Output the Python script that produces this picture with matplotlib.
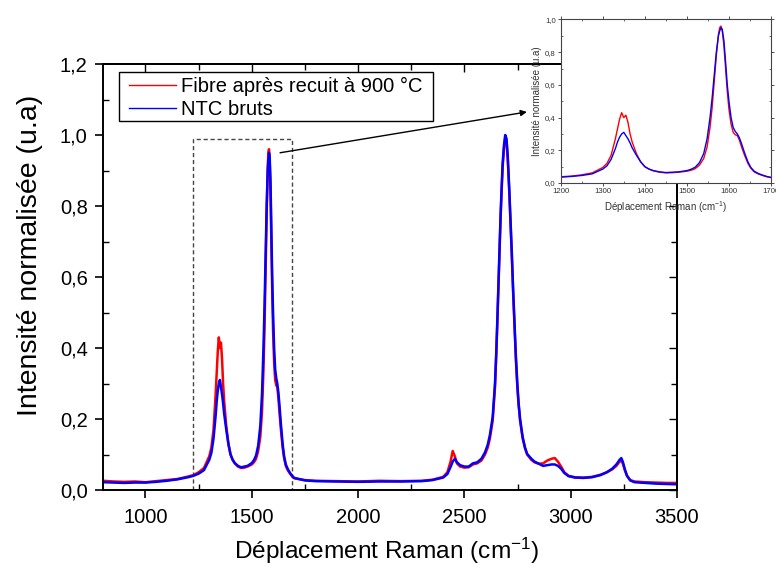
import matplotlib
matplotlib.use("Agg")
import matplotlib.pyplot as plt
from matplotlib.ticker import MultipleLocator, FuncFormatter
from matplotlib.patches import Rectangle

# ---------------- data ----------------
raman_shift = [800, 850, 900, 950, 1000, 1050, 1100, 1150, 1200, 1225, 1250, 1275,
               1300, 1310, 1320, 1330, 1335, 1340, 1345, 1350, 1355, 1360, 1365, 1370,
               1380, 1390, 1400, 1410, 1420, 1435, 1450, 1465, 1480, 1500, 1510, 1520,
               1530, 1540, 1548, 1555, 1560, 1565, 1570, 1575, 1578, 1581, 1584, 1588,
               1592, 1596, 1600, 1605, 1610, 1615, 1620, 1625, 1630, 1637, 1645, 1652,
               1660, 1670, 1680, 1690, 1700, 1750, 1800, 1900, 2000, 2100, 2200, 2300,
               2350, 2400, 2420, 2435, 2445, 2455, 2465, 2480, 2500, 2520, 2540, 2560,
               2580, 2597, 2610, 2620, 2633, 2644, 2650, 2655, 2660, 2664, 2670, 2675,
               2680, 2686, 2692, 2698, 2704, 2711, 2717, 2723, 2729, 2735, 2742, 2749,
               2755, 2762, 2774, 2785, 2795, 2815, 2830, 2850, 2870, 2890, 2910, 2925,
               2940, 2955, 2970, 2990, 3020, 3060, 3100, 3140, 3170, 3195, 3215, 3230,
               3238, 3245, 3255, 3265, 3280, 3300, 3350, 3400, 3450, 3500]

fibre_900C = [0.026, 0.024, 0.023, 0.024, 0.022, 0.025, 0.028, 0.031, 0.038, 0.042, 0.050, 0.062,
              0.095, 0.120, 0.170, 0.270, 0.330, 0.390, 0.430, 0.400, 0.415, 0.370, 0.300, 0.250,
              0.180, 0.130, 0.100, 0.085, 0.075, 0.066, 0.062, 0.063, 0.066, 0.072, 0.078, 0.088,
              0.110, 0.150, 0.220, 0.340, 0.460, 0.620, 0.780, 0.910, 0.950, 0.960, 0.930, 0.840,
              0.700, 0.560, 0.450, 0.360, 0.310, 0.295, 0.290, 0.260, 0.220, 0.170, 0.120, 0.090,
              0.068, 0.055, 0.046, 0.038, 0.033, 0.028, 0.026, 0.025, 0.024, 0.026, 0.025, 0.026,
              0.029, 0.037, 0.050, 0.080, 0.110, 0.095, 0.075, 0.066, 0.063, 0.064, 0.072, 0.075,
              0.083, 0.100, 0.120, 0.145, 0.195, 0.290, 0.380, 0.470, 0.570, 0.660, 0.760, 0.840,
              0.910, 0.960, 0.990, 0.985, 0.930, 0.840, 0.750, 0.660, 0.560, 0.470, 0.370, 0.290,
              0.240, 0.195, 0.145, 0.118, 0.100, 0.085, 0.078, 0.074, 0.075, 0.083, 0.088, 0.090,
              0.080, 0.066, 0.050, 0.040, 0.036, 0.035, 0.037, 0.043, 0.050, 0.058, 0.068, 0.080,
              0.082, 0.075, 0.055, 0.040, 0.028, 0.024, 0.022, 0.021, 0.020, 0.020]

ntc_bruts = [0.022, 0.021, 0.020, 0.021, 0.021, 0.023, 0.026, 0.030, 0.036, 0.040, 0.046, 0.056,
             0.085, 0.105, 0.145, 0.210, 0.250, 0.280, 0.300, 0.310, 0.290, 0.270, 0.245, 0.215,
             0.170, 0.130, 0.100, 0.085, 0.076, 0.068, 0.064, 0.066, 0.068, 0.076, 0.084, 0.097,
             0.125, 0.180, 0.270, 0.400, 0.520, 0.660, 0.800, 0.900, 0.930, 0.950, 0.940, 0.870,
             0.740, 0.600, 0.500, 0.400, 0.340, 0.315, 0.300, 0.275, 0.240, 0.185, 0.130, 0.095,
             0.072, 0.058, 0.048, 0.040, 0.034, 0.027, 0.025, 0.024, 0.023, 0.024, 0.024, 0.025,
             0.028, 0.035, 0.045, 0.065, 0.080, 0.088, 0.078, 0.070, 0.066, 0.066, 0.075, 0.078,
             0.088, 0.106, 0.128, 0.155, 0.205, 0.300, 0.390, 0.480, 0.580, 0.670, 0.770, 0.850,
             0.920, 0.970, 1.000, 0.990, 0.940, 0.850, 0.760, 0.670, 0.570, 0.480, 0.380, 0.300,
             0.245, 0.200, 0.150, 0.120, 0.102, 0.088, 0.080, 0.074, 0.068, 0.070, 0.072, 0.072,
             0.068, 0.060, 0.048, 0.039, 0.035, 0.034, 0.036, 0.042, 0.050, 0.060, 0.072, 0.085,
             0.090, 0.080, 0.058, 0.040, 0.027, 0.022, 0.020, 0.018, 0.017, 0.016]

series_labels = ["Fibre après recuit à 900 °C", "NTC bruts"]
xlabel_text = "Déplacement Raman (cm$^{-1}$)"
ylabel_text = "Intensité normalisée (u.a)"
zoom_box_x = [1225, 1690]
zoom_box_top = 0.99
arrow_start = (1633, 0.95)
arrow_end = (2794, 1.065)

# ---------------- style ----------------
plt.rcParams['font.family'] = ['Liberation Sans', 'DejaVu Sans']
plt.rcParams['mathtext.fontset'] = 'custom'
plt.rcParams['mathtext.rm'] = 'Liberation Sans'
plt.rcParams['mathtext.it'] = 'Liberation Sans:italic'

comma = FuncFormatter(lambda v, p: f"{v:.1f}".replace('.', ','))

fig = plt.figure(figsize=(7.76, 5.68), dpi=100)
ax = fig.add_axes([0.1327, 0.1373, 0.7397, 0.75])

ax.plot(raman_shift, fibre_900C, color='#ff0000', lw=1.8, label=series_labels[0])
ax.plot(raman_shift, ntc_bruts, color='#0000ff', lw=1.8, label=series_labels[1])

ax.set_xlim(800, 3500)
ax.set_ylim(0, 1.2)
ax.xaxis.set_major_locator(MultipleLocator(500))
ax.xaxis.set_minor_locator(MultipleLocator(250))
ax.yaxis.set_major_locator(MultipleLocator(0.2))
ax.yaxis.set_minor_locator(MultipleLocator(0.1))
ax.yaxis.set_major_formatter(comma)
ax.tick_params(which='major', direction='out', length=6, width=1.2, labelsize=14.5)
ax.tick_params(axis='x', which='major', pad=7)
ax.tick_params(axis='y', which='major', pad=5)
ax.tick_params(which='minor', direction='in', length=4, width=1.0)
for s in ax.spines.values():
    s.set_linewidth(1.4)

secx = ax.secondary_xaxis('top')
secx.xaxis.set_major_locator(MultipleLocator(500))
secx.xaxis.set_minor_locator(MultipleLocator(250))
secx.tick_params(which='both', direction='in', labeltop=False, width=1.0)
secx.tick_params(which='major', length=6)
secx.tick_params(which='minor', length=4)
secx.spines['top'].set_linewidth(1.4)
secy = ax.secondary_yaxis('right')
secy.yaxis.set_major_locator(MultipleLocator(0.2))
secy.yaxis.set_minor_locator(MultipleLocator(0.1))
secy.tick_params(which='both', direction='in', labelright=False, width=1.0)
secy.tick_params(which='major', length=6)
secy.tick_params(which='minor', length=4)
secy.spines['right'].set_linewidth(1.4)

ax.set_xlabel(xlabel_text, fontsize=17.6)
ax.xaxis.set_label_coords(0.495, -0.107)
ax.set_ylabel(ylabel_text, fontsize=20.5)
ax.yaxis.set_label_coords(-0.105, 0.55)

# legend: frame drawn as a box, entries placed inside it
ax.add_patch(Rectangle((0.0279, 0.866), 0.547, 0.115, transform=ax.transAxes,
                       fill=True, fc='white', ec='black', lw=1.0, zorder=4))
leg = ax.legend(loc='upper left', bbox_to_anchor=(0.046, 0.970), borderaxespad=0,
                frameon=False, prop={'family': ['Liberation Sans', 'DejaVu Sans'], 'size': 14.5},
                handlelength=2.3, handletextpad=0.28, labelspacing=0.2, borderpad=0)
leg.set_zorder(5)
for h in leg.get_lines():
    h.set_linewidth(1.0)

ax.add_patch(Rectangle((zoom_box_x[0], 0), zoom_box_x[1] - zoom_box_x[0], zoom_box_top,
                       fill=False, ls=(0, (3, 2)), lw=1.0, ec='#444444', zorder=1))
ax.annotate('', xy=arrow_end, xytext=arrow_start,
            arrowprops=dict(arrowstyle='-|>', color='black', lw=1.0,
                            mutation_scale=9, shrinkA=0, shrinkB=0))

# ---------------- inset ----------------
ins = fig.add_axes([0.7225, 0.6778, 0.2711, 0.2879], zorder=5)
ins.set_facecolor('white')
ins.plot(raman_shift, fibre_900C, color='#ff0000', lw=1.0)
ins.plot(raman_shift, ntc_bruts, color='#0000ff', lw=1.0)
ins.set_xlim(1200, 1700)
ins.set_ylim(0, 1.0)
ins.xaxis.set_major_locator(MultipleLocator(100))
ins.xaxis.set_minor_locator(MultipleLocator(50))
ins.yaxis.set_major_locator(MultipleLocator(0.2))
ins.yaxis.set_minor_locator(MultipleLocator(0.1))
ins.yaxis.set_major_formatter(comma)
ins.tick_params(which='major', direction='out', length=2.5, width=0.6, labelsize=5.6,
                pad=1, colors='#333333')
ins.tick_params(which='minor', direction='in', length=1.5, width=0.5, colors='#333333')
ins.tick_params(which='both', top=True, right=True)
for s in ins.spines.values():
    s.set_linewidth(0.8)
    s.set_color('#444444')
ins.set_xlabel(xlabel_text, fontsize=7.0, labelpad=3, color='#333333')
ins.set_ylabel(ylabel_text, fontsize=7.0, labelpad=2, color='#333333')

fig.savefig('out.png', dpi=100)
